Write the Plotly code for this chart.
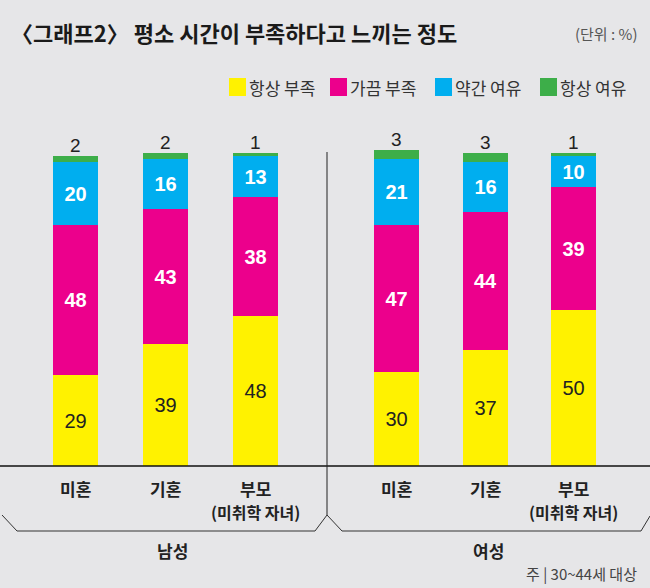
import plotly.graph_objects as go

# data
groups = ['남성', '여성']
categories = ['미혼', '기혼', '부모']
sub_labels = ['', '', '(미취학 자녀)']
series_names = ['항상 부족', '가끔 부족', '약간 여유', '항상 여유']
always_short = [29, 39, 48, 30, 37, 50]
sometimes_short = [48, 43, 38, 47, 44, 39]
little_spare = [20, 16, 13, 21, 16, 10]
always_spare = [2, 2, 1, 3, 3, 1]

COLORS = ['#FFF200', '#EC008C', '#00AEEF', '#3DAE49']
BG = '#E6E6E8'
W, H = 650, 588
NUM_FONT = 'Liberation Sans, Arial'
KR_FONT = 'Noto Sans CJK KR'


def px(x):
    return x / W


def py(y):
    return 1 - y / H


def label(x, y, text, size, color, xanchor='center', xref='paper'):
    return dict(x=x, y=py(y), xref=xref, yref='paper', text=text, showarrow=False,
                xanchor=xanchor, yanchor='middle',
                font=dict(family=KR_FONT, size=size, color=color))


# bar x positions: three per group, women group shifted right
xpos = [0, 1, 2] + [3.57 + i * 0.98 for i in range(3)]
unit = 90.0          # pixels per x unit
x0 = 75.5            # pixel of the first bar centre
ppu = 3.13           # pixels per percent
base = 466           # pixel of the baseline

fig = go.Figure()
series = [always_short, sometimes_short, little_spare, always_spare]
text_colors = ['#222222', 'white', 'white', 'white']
for name, vals, col, tcol in zip(series_names, series, COLORS, text_colors):
    show_text = name != '항상 여유'
    bold = tcol == 'white'
    fig.add_trace(go.Bar(
        x=xpos, y=vals, name=name, width=0.5,
        marker=dict(color=col, line=dict(width=0)),
        text=[(f'<b>{v}</b>' if bold else str(v)) for v in vals] if show_text else None,
        textposition='inside', insidetextanchor='middle',
        textfont=dict(family=NUM_FONT, size=20, color=tcol),
        hovertemplate='%{y}%<extra>' + name + '</extra>',
        showlegend=False,
    ))

totals = [a + b + c + d for a, b, c, d in zip(*series)]
annotations = []
for x, t, v in zip(xpos, totals, always_spare):
    annotations.append(dict(x=x, y=t, xref='x', yref='y', text=str(v), showarrow=False,
                            xanchor='center', yanchor='bottom', yshift=-2,
                            font=dict(family=NUM_FONT, size=19, color='#222')))

# category labels under the bars
for i, x in enumerate(xpos):
    annotations.append(label(x, 488, '<b>' + categories[i % 3] + '</b>', 17, '#222', xref='x'))
    if sub_labels[i % 3]:
        annotations.append(label(x, 512, '<b>' + sub_labels[i % 3] + '</b>', 16, '#222', xref='x'))

# group labels
for g, cx in zip(groups, [173, 488]):
    annotations.append(label(px(cx), 550, '<b>' + g + '</b>', 17, '#222'))

# title, unit, note
annotations += [
    label(px(9), 32, '<b>〈그래프2〉 평소 시간이 부족하다고 느끼는 정도</b>', 22, '#1a1a1a', xanchor='left'),
    label(px(639), 33, '(단위 : %)', 15, '#555', xanchor='right'),
    label(px(639), 573, '주 | 30~44세 대상', 15, '#444', xanchor='right'),
]

# manual legend
shapes = []
legend_x = [229, 330, 435, 540]
for name, col, lx in zip(series_names, COLORS, legend_x):
    shapes.append(dict(type='rect', xref='paper', yref='paper', x0=px(lx), x1=px(lx + 17),
                       y0=py(96), y1=py(78), fillcolor=col, line=dict(width=0)))
    annotations.append(label(px(lx + 18), 87, name, 17, '#333', xanchor='left'))

# baseline, divider and brackets
shapes += [
    dict(type='line', xref='paper', yref='y', x0=0, x1=1, y0=0, y1=0, line=dict(color='#111', width=1.5)),
    dict(type='line', xref='paper', yref='paper', x0=px(327), x1=px(327), y0=py(152), y1=py(515),
         line=dict(color='#222', width=1)),
    dict(type='path', xref='paper', yref='paper',
         path=f'M{px(2)},{py(515)} L{px(17)},{py(531)} L{px(315)},{py(531)} L{px(327)},{py(515)} '
              f'L{px(342)},{py(531)} L{px(641)},{py(531)} L{px(650)},{py(516)}',
         line=dict(color='#333', width=1)),
]

fig.update_layout(
    width=W, height=H, barmode='stack', bargap=0,
    margin=dict(l=0, r=0, t=0, b=0),
    paper_bgcolor=BG, plot_bgcolor=BG,
    xaxis=dict(range=[-x0 / unit, (W - x0) / unit], visible=False, fixedrange=True),
    yaxis=dict(range=[-(H - base) / ppu, base / ppu], visible=False, fixedrange=True),
    annotations=annotations, shapes=shapes,
    font=dict(family=KR_FONT),
    uniformtext=dict(minsize=10, mode='show'),
)

# drop the page's default body margin so the figure fills the window
fig.write_html('out.html', config={'displayModeBar': False},
               post_script="document.body.style.margin='0';document.body.style.background='" + BG + "';")
